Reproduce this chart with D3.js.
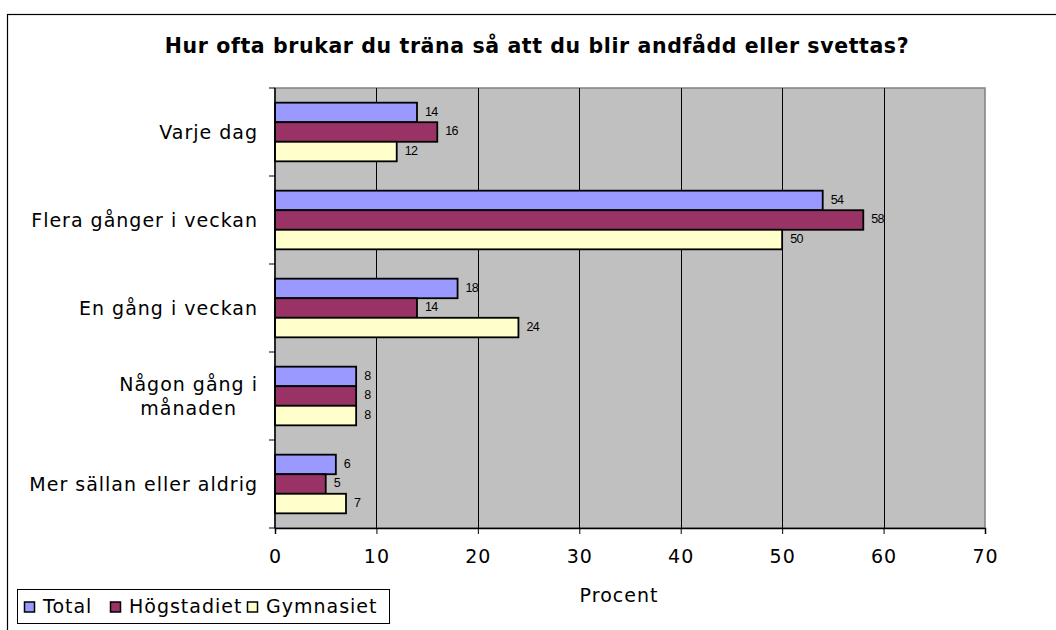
<!DOCTYPE html>
<html>
<head>
<meta charset="utf-8">
<script src="https://cdn.jsdelivr.net/npm/d3@7"></script>
<style>
  body { margin: 0; background: #fff; }
  svg { display: block; }
</style>
</head>
<body>
<div id="chart"></div>
<script>
// Data
const categories = ["Varje dag", "Flera gånger i veckan", "En gång i veckan", "Någon gång i månaden", "Mer sällan eller aldrig"];
const categoryLines = [["Varje dag"], ["Flera gånger i veckan"], ["En gång i veckan"], ["Någon gång i", "månaden"], ["Mer sällan eller aldrig"]];
const seriesNames = ["Total", "Högstadiet", "Gymnasiet"];
const totalValues = [14, 54, 18, 8, 6];
const hogstadietValues = [16, 58, 14, 8, 5];
const gymnasietValues = [12, 50, 24, 8, 7];
const xTicks = [0, 10, 20, 30, 40, 50, 60, 70];

const colors = ["#9999FF", "#993366", "#FFFFCC"];
const seriesValues = [totalValues, hogstadietValues, gymnasietValues];

const width = 1056;
const height = 630;
const plot = {left: 275, right: 985, top: 88, bottom: 528};

const svg = d3.select("#chart")
    .append("svg")
        .attr("width", width)
        .attr("height", height);

// outer chart border
svg.append("rect")
    .attr("x", 7.5).attr("y", 14.5)
    .attr("width", 1100).attr("height", 700)
    .attr("fill", "none")
    .attr("stroke", "#000")
    .attr("stroke-width", 1.2);

svg.append("text")
    .attr("x", 537).attr("y", 53)
    .attr("text-anchor", "middle")
    .style("font-family", "DejaVu Sans")
    .style("font-weight", "bold")
    .style("font-size", "20.5px")
    .style("letter-spacing", "0.6px")
    .text("Hur ofta brukar du träna så att du blir andfådd eller svettas?");

const x = d3.scaleLinear()
    .domain([0, 70])
    .range([plot.left, plot.right]);

const y = d3.scaleBand()
    .domain(categories)
    .range([plot.top, plot.bottom]);

// 3 bars + 150% gap per category
const barH = y.bandwidth() / 4.5;
const yInner = d3.scaleBand()
    .domain(seriesNames)
    .range([barH * 0.75, barH * 3.75]);

// plot background
svg.append("rect")
    .attr("x", plot.left).attr("y", plot.top)
    .attr("width", plot.right - plot.left)
    .attr("height", plot.bottom - plot.top)
    .attr("fill", "#C0C0C0")
    .attr("stroke", "#808080")
    .attr("stroke-width", 1.5);

// vertical gridlines
svg.append("g")
    .selectAll("line")
    .data(xTicks.filter(d => d > 0 && d < 70))
    .join("line")
        .attr("x1", d => Math.round(x(d)) + 0.5)
        .attr("x2", d => Math.round(x(d)) + 0.5)
        .attr("y1", plot.top)
        .attr("y2", plot.bottom)
        .attr("stroke", "#000")
        .attr("stroke-width", 1);

// bars
const groups = svg.append("g")
    .selectAll("g")
    .data(categories)
    .join("g")
        .attr("transform", d => `translate(0,${y(d)})`);

groups.selectAll("rect")
    .data((c, i) => seriesNames.map((s, j) => ({series: s, value: seriesValues[j][i], color: colors[j]})))
    .join("rect")
        .attr("x", x(0))
        .attr("y", d => yInner(d.series))
        .attr("width", d => x(d.value) - x(0))
        .attr("height", yInner.bandwidth())
        .attr("fill", d => d.color)
        .attr("stroke", "#000")
        .attr("stroke-width", 1.8);

groups.selectAll("text")
    .data((c, i) => seriesNames.map((s, j) => ({series: s, value: seriesValues[j][i]})))
    .join("text")
        .attr("x", d => x(d.value) + 8)
        .attr("y", d => yInner(d.series) + yInner.bandwidth() / 2 - 1)
        .attr("dy", "0.35em")
        .style("font-family", "Liberation Sans")
        .style("font-size", "12.5px")
        .style("letter-spacing", "-0.7px")
        .text(d => d.value);

// x axis
const xAxis = svg.append("g")
    .attr("transform", `translate(0,${plot.bottom})`)
    .call(d3.axisBottom(x).tickValues(xTicks).tickSize(6).tickPadding(16));
xAxis.select(".domain").attr("stroke-width", 1.5);
xAxis.selectAll("text")
    .style("font-family", "DejaVu Sans")
    .style("font-size", "19px")
    .style("letter-spacing", "1px")
    .attr("fill", "#000");

// y axis: ticks on category boundaries
const yEdges = categories.map(c => y(c)).concat([plot.bottom]);
svg.append("line")
    .attr("x1", plot.left).attr("x2", plot.left)
    .attr("y1", plot.top).attr("y2", plot.bottom)
    .attr("stroke", "#000").attr("stroke-width", 1.5);
svg.append("g")
    .selectAll("line")
    .data(yEdges)
    .join("line")
        .attr("x1", plot.left - 6).attr("x2", plot.left)
        .attr("y1", d => d).attr("y2", d => d)
        .attr("stroke", "#000");

// category labels, right-aligned block, lines centred
categories.forEach((c, i) => {
    const lines = categoryLines[i];
    const t = svg.append("text")
        .style("font-family", "DejaVu Sans")
        .style("font-size", "19px")
        .style("letter-spacing", "1px")
        .attr("text-anchor", "middle");
    const spans = lines.map((l, k) => t.append("tspan").text(l));
    const w = d3.max(spans, s => s.node().getComputedTextLength());
    const cx = 258 - w / 2;
    const cy = y(c) + y.bandwidth() / 2;
    const lh = 24.5;
    spans.forEach((s, k) => {
        s.attr("x", cx)
         .attr("y", cy + (k - (lines.length - 1) / 2) * lh)
         .attr("dy", "0.36em");
    });
});

svg.append("text")
    .attr("x", 619).attr("y", 602)
    .attr("text-anchor", "middle")
    .style("font-family", "DejaVu Sans")
    .style("font-size", "19px")
    .style("letter-spacing", "1px")
    .text("Procent");

// legend
const legend = svg.append("g");
legend.append("rect")
    .attr("x", 17.5).attr("y", 589.5)
    .attr("width", 372).attr("height", 34)
    .attr("fill", "#fff")
    .attr("stroke", "#000")
    .attr("stroke-width", 1);

const legendX = [24, 110, 247];
seriesNames.forEach((s, j) => {
    legend.append("rect")
        .attr("x", legendX[j] + 0.5).attr("y", 602)
        .attr("width", 10).attr("height", 10)
        .attr("fill", colors[j])
        .attr("stroke", "#000")
        .attr("stroke-width", 1.5);
    legend.append("text")
        .attr("x", legendX[j] + 19).attr("y", 613)
        .style("font-family", "DejaVu Sans")
        .style("font-size", "19px")
        .style("letter-spacing", "1px")
        .text(s);
});
</script>
</body>
</html>
